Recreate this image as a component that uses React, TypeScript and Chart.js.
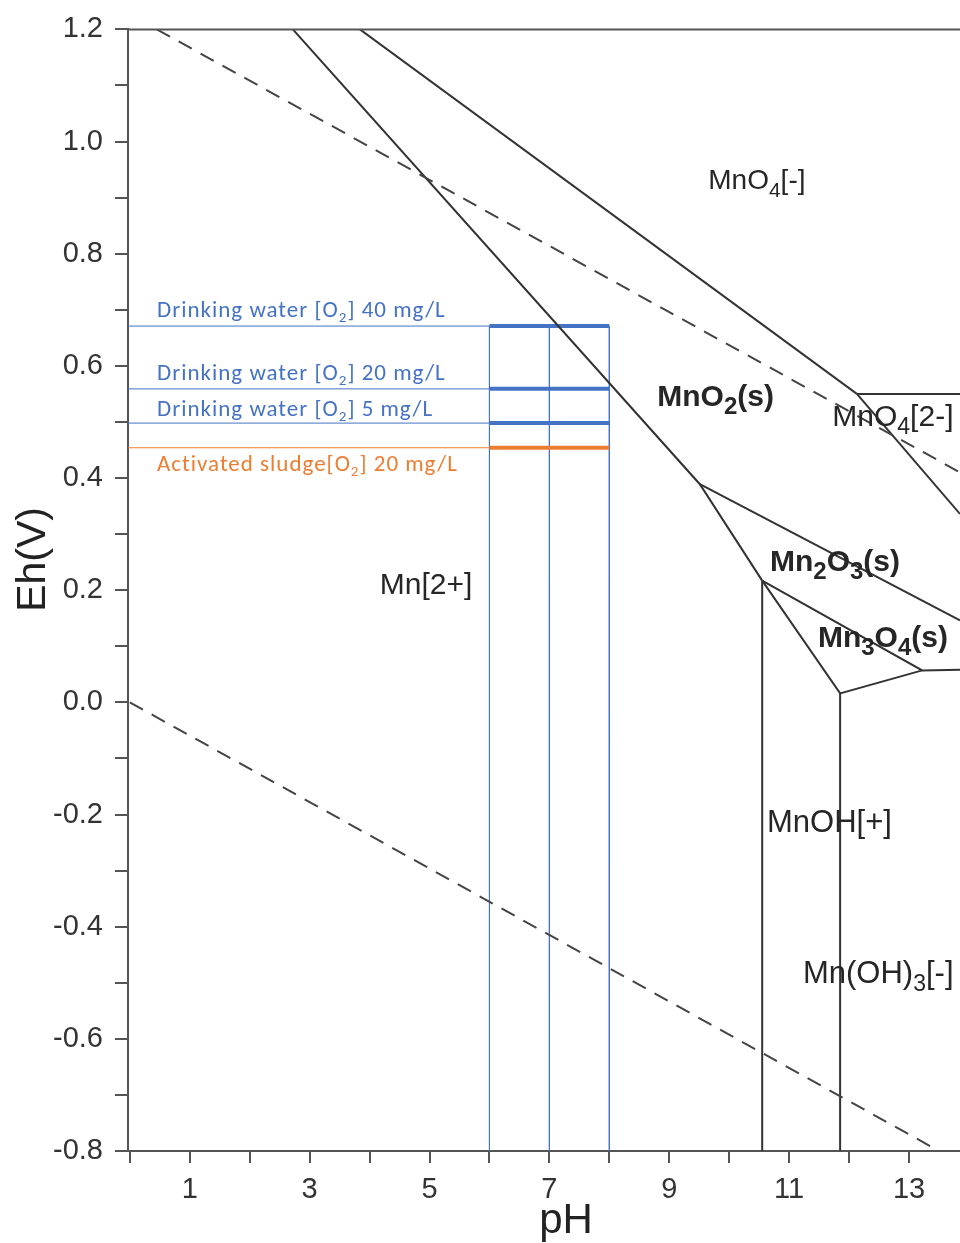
import React, { useEffect, useRef } from 'react';
import { Chart, registerables } from 'chart.js';

Chart.register(...registerables);

// ---- axis ranges and tick labels ----
const PH_MIN = -0.03;
const PH_MAX = 13.85;
const EH_MIN = -0.8;
const EH_MAX = 1.2;
const xTickLabels = [1, 3, 5, 7, 9, 11, 13];
const yTickLabels = ['-0.8', '-0.6', '-0.4', '-0.2', '0.0', '0.2', '0.4', '0.6', '0.8', '1.0', '1.2'];

// ---- water stability lines (dashed) [pH, Eh] ----
const waterO2Line = [[0.45, 1.2], [13.85, 0.41]];
const waterH2Line = [[0.0, 0.0], [13.5, -0.8]];

// ---- Mn phase boundaries [pH, Eh] ----
const mnO2Mn2Line = [[2.72, 1.2], [9.51, 0.389], [10.55, 0.217]];
const mnO2Mn2O3Line = [[9.51, 0.389], [13.85, 0.146]];
const mn2O3Mn3O4Line = [[10.55, 0.217], [13.22, 0.057], [13.85, 0.058]];
const mn2Mn3O4Line = [[10.55, 0.217], [11.85, 0.016], [13.22, 0.057]];
const mn2MnOHLine = [[10.55, 0.217], [10.55, -0.8]];
const mnOHMnOH3Line = [[11.85, 0.016], [11.85, -0.8]];
const mnO4MnO2Line = [[3.84, 1.2], [12.13, 0.55]];
const mnO4MnO42Line = [[12.13, 0.55], [13.85, 0.55]];
const mnO42MnO2Line = [[12.13, 0.55], [13.85, 0.336]];

// ---- oxygen levels (Eh) and pH window ----
const o2LevelNames = ['Drinking water 40', 'Drinking water 20', 'Drinking water 5', 'Activated sludge 20'];
const o2LevelEh = [0.671, 0.559, 0.498, 0.454];
const o2LevelColors = ['#4472C4', '#4472C4', '#4472C4', '#ED7D31'];
const phWindow = [6, 7, 8];

// ---- text annotations ----
type Part = [string, number];
const regionLabels: { ph: number; eh: number; size: number; bold: boolean; parts: Part[] }[] = [
  { ph: 9.65, eh: 0.915, size: 28, bold: false, parts: [['MnO', 0], ['4', 1], ['[-]', 0]] },
  { ph: 8.8, eh: 0.529, size: 30, bold: true, parts: [['MnO', 0], ['2', 1], ['(s)', 0]] },
  { ph: 11.72, eh: 0.493, size: 30, bold: false, parts: [['MnO', 0], ['4', 1], ['[2-]', 0]] },
  { ph: 10.68, eh: 0.235, size: 30, bold: true, parts: [['Mn', 0], ['2', 1], ['O', 0], ['3', 1], ['(s)', 0]] },
  { ph: 11.48, eh: 0.098, size: 30, bold: true, parts: [['Mn', 0], ['3', 1], ['O', 0], ['4', 1], ['(s)', 0]] },
  { ph: 4.17, eh: 0.194, size: 30, bold: false, parts: [['Mn[2+]', 0]] },
  { ph: 10.63, eh: -0.232, size: 31, bold: false, parts: [['MnOH[+]', 0]] },
  { ph: 11.23, eh: -0.501, size: 31, bold: false, parts: [['Mn(OH)', 0], ['3', 1], ['[-]', 0]] },
];
const o2Labels: { ph: number; eh: number; color: string; parts: Part[] }[] = [
  { ph: 0.454, eh: 0.687, color: '#4472C4', parts: [['Drinking water [O', 0], ['2', 1], ['] 40 mg/L', 0]] },
  { ph: 0.454, eh: 0.575, color: '#4472C4', parts: [['Drinking water [O', 0], ['2', 1], ['] 20 mg/L', 0]] },
  { ph: 0.454, eh: 0.511, color: '#4472C4', parts: [['Drinking water [O', 0], ['2', 1], ['] 5 mg/L', 0]] },
  { ph: 0.454, eh: 0.413, color: '#ED7D31', parts: [['Activated sludge[O', 0], ['2', 1], ['] 20 mg/L', 0]] },
];

const ARIAL = '"Liberation Sans", Arial, Helvetica, sans-serif';
const CALIBRI = 'Carlito, Lato, "Open Sans", sans-serif';

const toPts = (arr: number[][]) => arr.map(([x, y]) => ({ x, y }));

function drawRich(ctx: CanvasRenderingContext2D, x: number, y: number, parts: Part[], size: number, bold: boolean, family: string, color: string, subSize: number, subShift: number, spacing = 0) {
  ctx.save();
  ctx.fillStyle = color;
  ctx.textAlign = 'left';
  ctx.textBaseline = 'alphabetic';
  (ctx as any).letterSpacing = `${spacing}px`;
  let cx = x;
  for (const [t, sub] of parts) {
    const s = sub ? subSize : size;
    ctx.font = `${bold ? 'bold ' : ''}${s}px ${family}`;
    ctx.fillText(t, cx, sub ? y + subShift : y);
    cx += ctx.measureText(t).width;
  }
  ctx.restore();
}

const annotationPlugin = {
  id: 'annotations',
  afterDatasetsDraw(chart: any) {
    const { ctx, scales, chartArea } = chart;
    const xs = scales.x;
    const ys = scales.y;
    // top frame line
    ctx.save();
    ctx.strokeStyle = '#555';
    ctx.lineWidth = 2;
    ctx.beginPath();
    ctx.moveTo(chartArea.left, chartArea.top);
    ctx.lineTo(chartArea.right, chartArea.top);
    ctx.stroke();
    ctx.restore();
    for (const l of regionLabels) {
      const sub = Math.round(l.size * (l.bold ? 0.8 : 0.75));
      drawRich(ctx, xs.getPixelForValue(l.ph), ys.getPixelForValue(l.eh), l.parts, l.size, l.bold, ARIAL, '#262626', sub, Math.round(l.size * 0.27));
    }
    for (const l of o2Labels) {
      drawRich(ctx, xs.getPixelForValue(l.ph), ys.getPixelForValue(l.eh), l.parts, 23, false, CALIBRI, l.color, 15, 5, 1.0);
    }
  },
  afterDraw(chart: any) {
    const { ctx, chartArea } = chart;
    ctx.save();
    ctx.fillStyle = '#222';
    ctx.font = `42px ${ARIAL}`;
    ctx.textAlign = 'center';
    ctx.textBaseline = 'alphabetic';
    ctx.fillText('pH', chartArea.left + 438, 1233);
    ctx.translate(45, chartArea.top + 530);
    ctx.rotate(-Math.PI / 2);
    ctx.font = `41px ${ARIAL}`;
    ctx.fillText('Eh(V)', 0, 0);
    ctx.restore();
  },
};

export default function App() {
  const ref = useRef<HTMLCanvasElement | null>(null);
  useEffect(() => {
    if (!ref.current) return;
    const black = (data: number[][], dashed = false, order = 1) => ({
      data: toPts(data),
      showLine: true,
      borderColor: dashed ? '#444' : '#333',
      borderWidth: 2,
      borderDash: dashed ? [15, 10] : [],
      pointRadius: 0,
      fill: false,
      order,
    });
    const datasets: any[] = [
      black(waterO2Line, true),
      black(waterH2Line, true),
      black(mnO2Mn2Line),
      black(mnO2Mn2O3Line),
      black(mn2O3Mn3O4Line),
      black(mn2Mn3O4Line),
      black(mn2MnOHLine),
      black(mnOHMnOH3Line),
      black(mnO4MnO2Line),
      black(mnO4MnO42Line),
      black(mnO42MnO2Line),
    ];
    o2LevelEh.forEach((eh, i) => {
      datasets.push({
        label: o2LevelNames[i] + ' guide',
        data: [{ x: PH_MIN, y: eh }, { x: phWindow[0], y: eh }],
        showLine: true, borderColor: o2LevelColors[i], borderWidth: 1, pointRadius: 0, order: 3,
      });
      datasets.push({
        label: o2LevelNames[i],
        data: [{ x: phWindow[0], y: eh }, { x: phWindow[phWindow.length - 1], y: eh }],
        showLine: true, borderColor: o2LevelColors[i], borderWidth: 4, pointRadius: 0, order: 2,
      });
    });
    phWindow.forEach((ph) => {
      datasets.push({
        data: [{ x: ph, y: o2LevelEh[0] }, { x: ph, y: EH_MIN }],
        showLine: true, borderColor: '#4472C4', borderWidth: 1, pointRadius: 0, order: 3,
      });
    });

    const chart = new Chart(ref.current, {
      type: 'scatter',
      data: { datasets },
      options: {
        responsive: false,
        animation: false,
        devicePixelRatio: 1,
        layout: { padding: { top: 28, left: 0, right: 0, bottom: 0 } },
        plugins: { legend: { display: false }, tooltip: { enabled: false } },
        scales: {
          x: {
            type: 'linear', position: 'bottom', min: PH_MIN, max: PH_MAX,
            afterFit: (s: any) => { s.height = 92; },
            ticks: {
              stepSize: 1, includeBounds: false, autoSkip: false, maxRotation: 0, padding: 10,
              color: '#333', font: { family: ARIAL, size: 29 },
              callback: (v: any) => (xTickLabels.includes(Math.round(Number(v) * 100) / 100) ? String(Math.round(Number(v))) : ''),
            },
            grid: { display: true, drawOnChartArea: false, drawTicks: true, tickLength: 12, color: '#555', lineWidth: 2 },
            border: { display: true, color: '#555', width: 2 },
          },
          y: {
            type: 'linear', position: 'left', min: EH_MIN, max: EH_MAX,
            afterFit: (s: any) => { s.width = 128; },
            ticks: {
              stepSize: 0.1, autoSkip: false, padding: 12,
              color: '#333', font: { family: ARIAL, size: 29 },
              callback: (v: any) => yTickLabels.find((l) => Math.abs(parseFloat(l) - Number(v)) < 1e-6) ?? '',
            },
            grid: { display: true, drawOnChartArea: false, drawTicks: true, tickLength: 13, color: '#555', lineWidth: 2 },
            border: { display: true, color: '#555', width: 2 },
          },
        },
      },
      plugins: [annotationPlugin],
    });
    return () => chart.destroy();
  }, []);
  return (
    <div style={{ position: 'fixed', left: 0, top: 0, width: 960, height: 1243, background: '#fff', overflow: 'hidden' }}>
      <canvas ref={ref} width={960} height={1243} style={{ display: 'block' }} />
    </div>
  );
}
